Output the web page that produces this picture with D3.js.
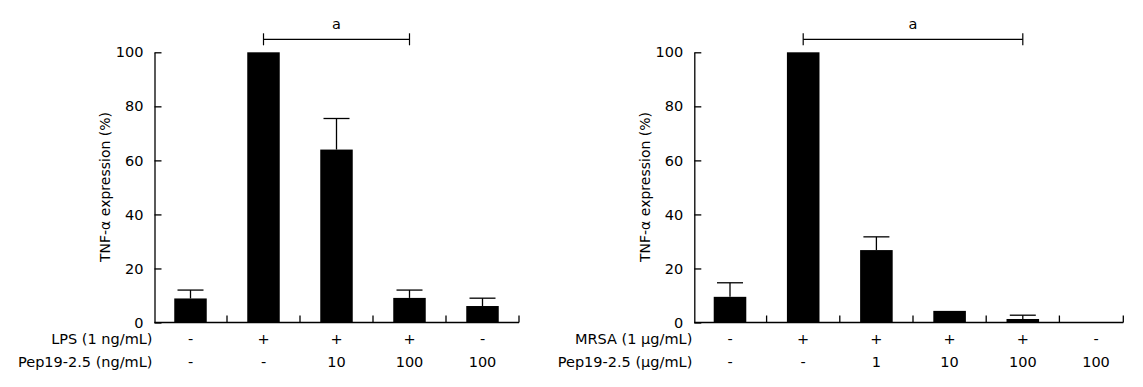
<!DOCTYPE html>
<html>
<head>
<meta charset="utf-8">
<script src="https://cdn.jsdelivr.net/npm/d3@7"></script>
<style>
  body { margin: 0; background: #fff; }
  text { font-family: "DejaVu Sans", Verdana, sans-serif; fill: #000; }
</style>
</head>
<body>
<svg id="chart" width="1143" height="387"></svg>
<script>
// Panel A: LPS stimulation
const lpsRow = ['-', '+', '+', '+', '-'];
const lpsPepRow = ['-', '-', '10', '100', '100'];
const lpsMean = [8.9, 100, 64.0, 9.1, 6.1];
const lpsSd = [3.1, 0, 11.5, 2.9, 2.9];

// Panel B: MRSA stimulation
const mrsaRow = ['-', '+', '+', '+', '+', '-'];
const mrsaPepRow = ['-', '-', '1', '10', '100', '100'];
const mrsaMean = [9.5, 100, 26.8, 4.3, 1.3, 0];
const mrsaSd = [5.2, 0, 4.9, 0, 1.4, 0];

const yTicks = [0, 20, 40, 60, 80, 100];

const svg = d3.select('#chart');

const y = d3.scaleLinear().domain([0, 100]).range([322.5, 52.3]);

function drawPanel(p) {
  const g = svg.append('g');
  const idx = d3.range(p.mean.length);

  const x = d3.scaleBand()
    .domain(idx)
    .range([p.x0, p.x1])
    .paddingInner(0.555)
    .paddingOuter(0.2775);

  const cx = i => x(i) + x.bandwidth() / 2;
  const step = x.step();
  const start = p.x0;

  // y axis, ticks pointing inward
  g.append('g')
    .attr('transform', `translate(${p.axisX},0)`)
    .call(d3.axisLeft(y).tickValues(yTicks).tickSizeInner(-7).tickSizeOuter(0).tickPadding(11))
    .call(a => a.selectAll('path, line').attr('stroke', '#000').attr('stroke-width', 1.3))
    .call(a => a.selectAll('text').style('font-size', '14.5px').style('font-family', '"DejaVu Sans", sans-serif'));

  // bars
  g.selectAll('rect.bar')
    .data(idx)
    .join('rect')
    .attr('class', 'bar')
    .attr('x', i => x(i))
    .attr('width', x.bandwidth())
    .attr('y', i => y(p.mean[i]))
    .attr('height', i => y(0) - y(p.mean[i]))
    .attr('fill', '#000');

  // error bars (upper only)
  const err = idx.filter(i => p.sd[i] > 0);
  g.selectAll('line.err')
    .data(err)
    .join('line')
    .attr('x1', cx).attr('x2', cx)
    .attr('y1', i => y(p.mean[i]))
    .attr('y2', i => y(p.mean[i] + p.sd[i]))
    .attr('stroke', '#000').attr('stroke-width', 1.3);
  g.selectAll('line.cap')
    .data(err)
    .join('line')
    .attr('x1', i => cx(i) - 13).attr('x2', i => cx(i) + 13)
    .attr('y1', i => y(p.mean[i] + p.sd[i]))
    .attr('y2', i => y(p.mean[i] + p.sd[i]))
    .attr('stroke', '#000').attr('stroke-width', 1.3);

  // x axis line and separators
  g.append('line')
    .attr('x1', p.axisX).attr('x2', p.axisEnd)
    .attr('y1', y(0)).attr('y2', y(0))
    .attr('stroke', '#000').attr('stroke-width', 1.5);
  const seps = idx.slice(1).map(i => start + step * i).concat([p.axisEnd]);
  g.selectAll('line.sep')
    .data(seps)
    .join('line')
    .attr('x1', d => d).attr('x2', d => d)
    .attr('y1', y(0)).attr('y2', y(0) - 7)
    .attr('stroke', '#000').attr('stroke-width', 1.3);

  // y axis title
  const t = g.append('text')
    .attr('transform', `translate(${p.axisX - 49},187) rotate(-90)`)
    .attr('text-anchor', 'middle')
    .attr('dy', '0.35em')
    .style('font-size', '14px');
  t.append('tspan').text('TNF-');
  t.append('tspan').text('α');
  t.append('tspan').text(' expression (%)');

  // condition rows
  const rows = [
    { label: p.rowLabel, vals: p.row, yb: 344 },
    { label: p.pepLabel, vals: p.pepRow, yb: 367 }
  ];
  rows.forEach(r => {
    g.append('text')
      .attr('x', p.axisX - 2)
      .attr('y', r.yb)
      .attr('text-anchor', 'end')
      .style('font-size', '14.5px')
      .text(r.label);
    g.selectAll(null)
      .data(idx)
      .join('text')
      .attr('x', cx)
      .attr('y', r.yb)
      .attr('text-anchor', 'middle')
      .style('font-size', '14.5px')
      .text(i => r.vals[i]);
  });

  // significance bracket
  const bx1 = cx(p.sig[0]), bx2 = cx(p.sig[1]);
  g.append('line')
    .attr('x1', bx1).attr('x2', bx2).attr('y1', 39.3).attr('y2', 39.3)
    .attr('stroke', '#000').attr('stroke-width', 1.2);
  [bx1, bx2].forEach(bx => {
    g.append('line')
      .attr('x1', bx).attr('x2', bx).attr('y1', 33.3).attr('y2', 45.3)
      .attr('stroke', '#000').attr('stroke-width', 1.2);
  });
  g.append('text')
    .attr('x', (bx1 + bx2) / 2)
    .attr('y', 29)
    .attr('text-anchor', 'middle')
    .style('font-size', '14.5px')
    .text('a');
}

drawPanel({
  mean: lpsMean, sd: lpsSd, row: lpsRow, pepRow: lpsPepRow,
  rowLabel: 'LPS (1 ng/mL)', pepLabel: 'Pep19-2.5 (ng/mL)',
  x0: 154, x1: 519, axisX: 154.5, axisEnd: 519, sig: [1, 3]
});

drawPanel({
  mean: mrsaMean, sd: mrsaSd, row: mrsaRow, pepRow: mrsaPepRow,
  rowLabel: 'MRSA (1 μg/mL)', pepLabel: 'Pep19-2.5 (μg/mL)',
  x0: 693.4, x1: 1132.6, axisX: 694.3, axisEnd: 1123.3, sig: [1, 4]
});
</script>
</body>
</html>
